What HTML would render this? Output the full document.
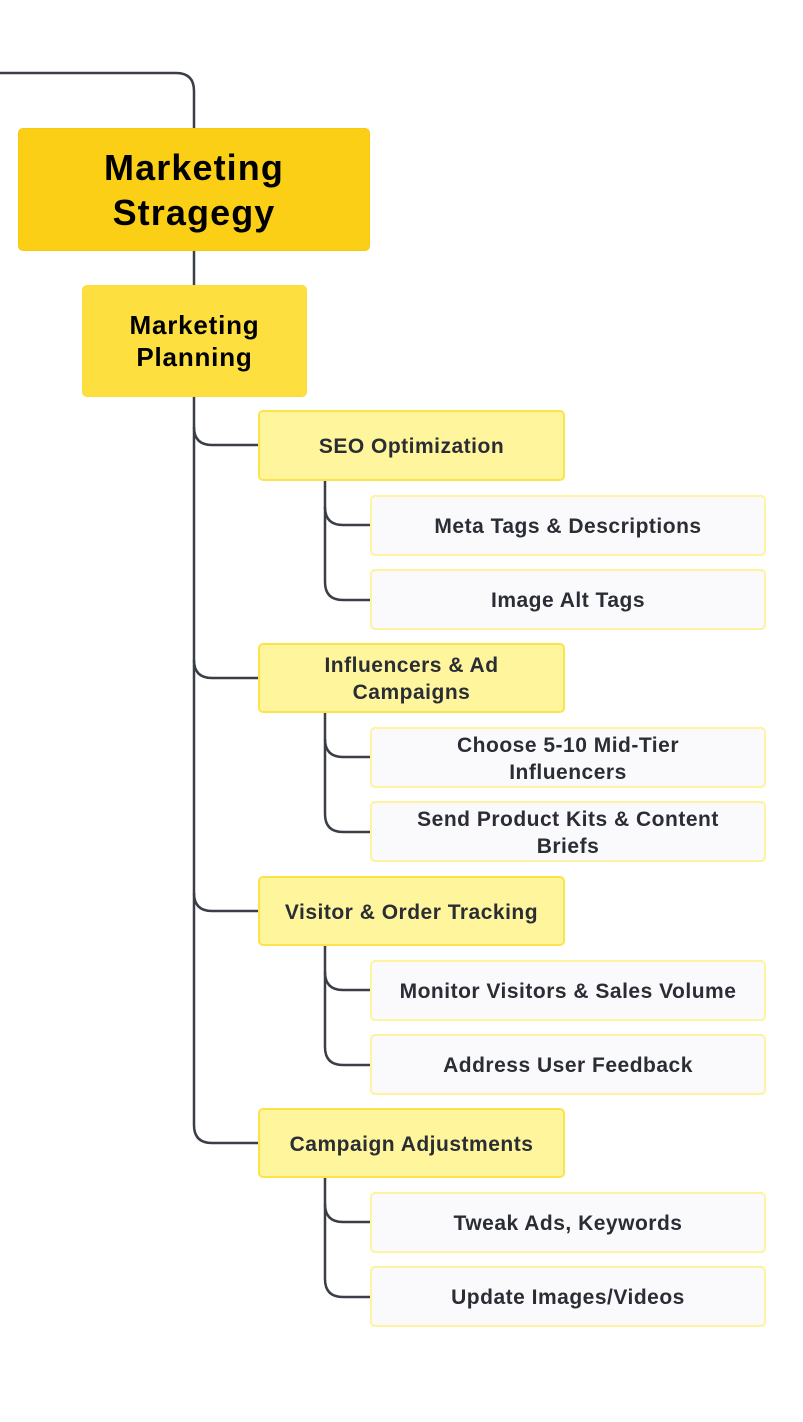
<!DOCTYPE html>
<html><head><meta charset="utf-8"><style>
body{margin:0;width:803px;height:1422px;background:#fff;position:relative;overflow:hidden;font-family:"Liberation Sans",sans-serif;}
.b{position:absolute;box-sizing:border-box;display:flex;align-items:center;justify-content:center;text-align:center;font-weight:bold;border-radius:5px;}
.l1{background:#FACF16;border:1.5px solid #F8C80E;color:#000;font-size:36px;line-height:45px;letter-spacing:1.1px;}
.lp{background:#FDE03F;border:1.5px solid #FCDC36;color:#000;font-size:26px;line-height:32px;letter-spacing:0.8px;}
.l2{background:#FEF59D;border:2px solid #FDE34A;color:#2a2d34;font-size:21px;line-height:27px;letter-spacing:0.5px;padding-top:2px;}
.l3{background:#FAFAFC;border:2px solid #FEF3A0;color:#2a2d34;font-size:21px;line-height:27px;letter-spacing:0.5px;padding-top:2px;}
svg{position:absolute;left:0;top:0}
</style></head><body>
<svg width="803" height="1422" fill="none" stroke="#3a3e47" stroke-width="2.5">
<path d="M0 73 H176 Q194 73 194 91 V128"/>
<path d="M194 251 V285"/>
<path d="M194 397 V1125 Q194 1143 212 1143 H258"/>
<path d="M194 427 Q194 445 212 445 H258"/>
<path d="M194 660 Q194 678 212 678 H258"/>
<path d="M194 893 Q194 911 212 911 H258"/>
<path d="M325 481 V582 Q325 600 343 600 H370"/><path d="M325 507 Q325 525 343 525 H370"/>
<path d="M325 713 V814 Q325 832 343 832 H370"/><path d="M325 739 Q325 757 343 757 H370"/>
<path d="M325 946 V1047 Q325 1065 343 1065 H370"/><path d="M325 972 Q325 990 343 990 H370"/>
<path d="M325 1178 V1279 Q325 1297 343 1297 H370"/><path d="M325 1204 Q325 1222 343 1222 H370"/>
</svg>
<div class="b l1" style="left:18px;top:128px;width:352px;height:123px">Marketing<br>Stragegy</div>
<div class="b lp" style="left:82px;top:285px;width:225px;height:112px">Marketing<br>Planning</div>
<div class="b l2" style="left:258px;top:410px;width:307px;height:71px">SEO Optimization</div>
<div class="b l2" style="left:258px;top:643px;width:307px;height:70px">Influencers &amp; Ad<br>Campaigns</div>
<div class="b l2" style="left:258px;top:876px;width:307px;height:70px">Visitor &amp; Order Tracking</div>
<div class="b l2" style="left:258px;top:1108px;width:307px;height:70px">Campaign Adjustments</div>
<div class="b l3" style="left:370px;top:495px;width:396px;height:61px">Meta Tags &amp; Descriptions</div>
<div class="b l3" style="left:370px;top:569px;width:396px;height:61px">Image Alt Tags</div>
<div class="b l3" style="left:370px;top:727px;width:396px;height:61px">Choose 5-10 Mid-Tier<br>Influencers</div>
<div class="b l3" style="left:370px;top:801px;width:396px;height:61px">Send Product Kits &amp; Content<br>Briefs</div>
<div class="b l3" style="left:370px;top:960px;width:396px;height:61px">Monitor Visitors &amp; Sales Volume</div>
<div class="b l3" style="left:370px;top:1034px;width:396px;height:61px">Address User Feedback</div>
<div class="b l3" style="left:370px;top:1192px;width:396px;height:61px">Tweak Ads, Keywords</div>
<div class="b l3" style="left:370px;top:1266px;width:396px;height:61px">Update Images/Videos</div>
</body></html>
